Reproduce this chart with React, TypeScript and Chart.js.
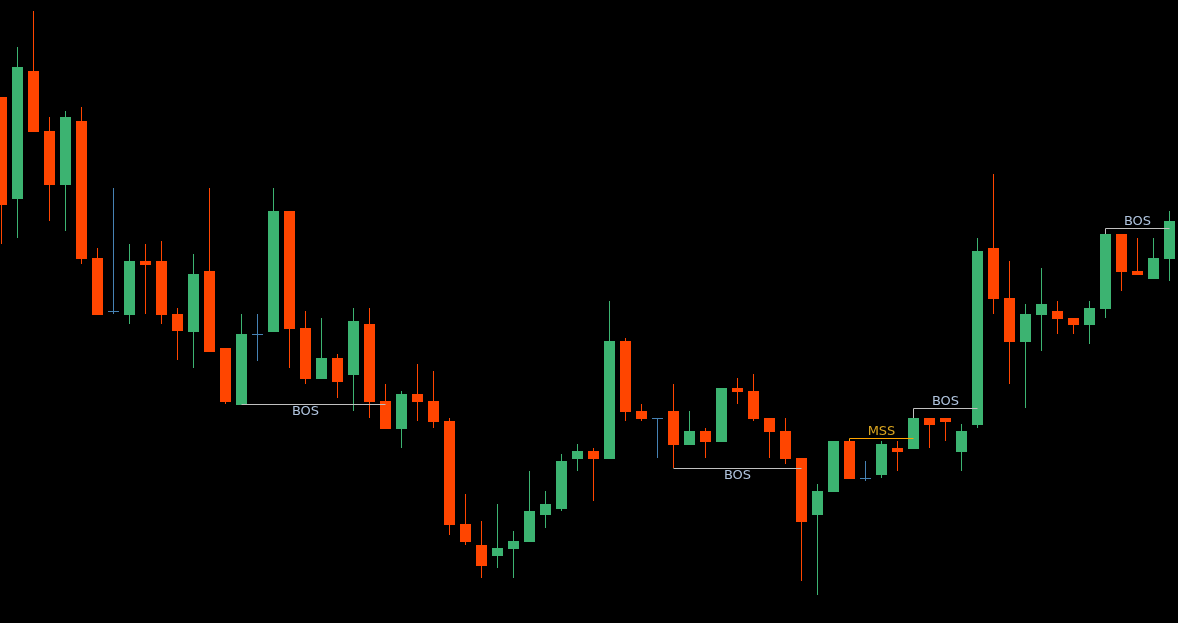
import { useEffect, useRef } from 'react';
import { Chart, registerables } from 'chart.js';

Chart.register(...registerables);

// Candle values (price units), one entry per bar, left to right
const OPEN = [526, 424, 552, 492, 438, 502, 365, 311, 308, 362, 362, 309, 291, 352, 275, 218, 288, 291, 412, 295, 244, 265, 248, 299, 222, 194, 229, 222, 202, 99, 78, 67, 74, 81, 108, 114, 164, 172, 164, 282, 212, 204, 212, 178, 192, 181, 235, 232, 205, 192, 165, 108, 131, 182, 144, 148, 175, 174, 205, 205, 171, 198, 375, 325, 281, 308, 312, 305, 298, 314, 389, 352, 344, 364];
const HIGH = [526, 576, 612, 506, 512, 516, 375, 435, 379, 379, 382, 315, 369, 435, 275, 309, 309, 435, 412, 312, 305, 269, 315, 315, 239, 232, 259, 252, 205, 129, 102, 119, 92, 152, 132, 169, 179, 175, 322, 285, 219, 205, 239, 212, 195, 235, 245, 249, 205, 205, 165, 139, 182, 182, 162, 182, 182, 205, 205, 205, 199, 385, 449, 362, 319, 355, 322, 305, 322, 389, 389, 385, 385, 412];
const LOW = [379, 385, 491, 402, 392, 359, 308, 309, 299, 309, 299, 263, 255, 271, 219, 218, 262, 291, 255, 239, 244, 225, 212, 205, 194, 175, 202, 195, 88, 78, 45, 55, 45, 81, 95, 112, 152, 122, 164, 202, 202, 165, 155, 178, 165, 181, 219, 202, 165, 159, 42, 28, 131, 144, 142, 145, 152, 174, 175, 182, 152, 195, 309, 239, 215, 272, 289, 289, 279, 305, 332, 348, 344, 342];
const CLOSE = [418, 556, 491, 438, 506, 364, 308, 311, 362, 358, 308, 292, 349, 271, 221, 289, 288, 412, 294, 244, 265, 241, 302, 221, 194, 229, 221, 201, 98, 81, 57, 75, 82, 112, 119, 162, 172, 164, 282, 211, 204, 204, 178, 192, 181, 235, 231, 204, 191, 164, 101, 132, 182, 144, 144, 179, 171, 205, 198, 201, 192, 372, 324, 281, 309, 319, 304, 298, 315, 389, 351, 348, 365, 402];

// Market-structure annotations
const STRUCT_TEXT = ['BOS', 'BOS', 'MSS', 'BOS', 'BOS'];
const STRUCT_FROM = [15, 42, 53, 57, 69];
const STRUCT_TO = [24, 50, 57, 61, 73];
const STRUCT_LEVEL = [219, 155, 185, 215, 395];
const STRUCT_ORIGIN = [219, 155, 182, 205, 389];
const STRUCT_SIDE = ['below', 'below', 'above', 'above', 'above'];

const GREEN = '#3cb371';
const RED = '#ff4500';
const DOJI = '#4682b4';
const BOS_LINE = '#c0c0c0';
const BOS_TEXT = '#b0c4de';
const MSS_LINE = '#ffa500';
const MSS_TEXT = '#daa520';

const W = 1178;
const H = 623;

export default function App() {
  const ref = useRef<HTMLCanvasElement>(null);

  useEffect(() => {
    if (!ref.current) return;
    const idx = OPEN.map((_, i) => i);
    const colors = idx.map((i) =>
      CLOSE[i] > OPEN[i] ? GREEN : CLOSE[i] < OPEN[i] ? RED : DOJI
    );

    const lineSets: any[] = STRUCT_TEXT.map((t, k) => ({
      type: 'line',
      data: [
        { x: STRUCT_FROM[k], y: STRUCT_ORIGIN[k] === STRUCT_LEVEL[k] ? STRUCT_LEVEL[k] - 0.5 : STRUCT_ORIGIN[k] },
        { x: STRUCT_FROM[k], y: STRUCT_LEVEL[k] - 0.5 },
        { x: STRUCT_TO[k], y: STRUCT_LEVEL[k] - 0.5 },
      ],
      borderColor: t === 'MSS' ? MSS_LINE : BOS_LINE,
      borderWidth: 1,
      pointRadius: 0,
      fill: false,
      tension: 0,
      order: 0,
    }));

    const labelPlugin = {
      id: 'structLabels',
      afterDatasetsDraw(chart: any) {
        const { ctx, scales } = chart;
        ctx.save();
        ctx.font = '13px "DejaVu Sans"';
        ctx.textAlign = 'center';
        ctx.textBaseline = 'alphabetic';
        STRUCT_TEXT.forEach((t, k) => {
          const mid = Math.floor((STRUCT_FROM[k] + STRUCT_TO[k]) / 2);
          const px = scales.x.getPixelForValue(mid);
          const py = scales.y.getPixelForValue(STRUCT_LEVEL[k]) + (STRUCT_SIDE[k] === 'below' ? 11 : -3);
          ctx.fillStyle = t === 'MSS' ? MSS_TEXT : BOS_TEXT;
          ctx.fillText(t, px, py);
        });
        ctx.restore();
      },
    };

    const chart = new Chart(ref.current, {
      type: 'bar',
      data: {
        datasets: [
          {
            type: 'bar',
            data: idx.map((i) => ({ x: i, y: [OPEN[i], CLOSE[i]] })),
            backgroundColor: colors,
            barThickness: 11,
            grouped: false,
            minBarLength: 1,
            borderWidth: 0,
            inflateAmount: 0,
            order: 1,
          } as any,
          {
            type: 'bar',
            data: idx.map((i) => ({ x: i, y: [LOW[i], HIGH[i]] })),
            backgroundColor: colors,
            barThickness: 1,
            grouped: false,
            borderWidth: 0,
            inflateAmount: 0,
            order: 2,
          } as any,
          ...lineSets,
        ],
      },
      options: {
        animation: false,
        responsive: false,
        maintainAspectRatio: false,
        events: [],
        layout: { padding: 0 },
        plugins: { legend: { display: false }, tooltip: { enabled: false } },
        scales: {
          x: { type: 'linear', min: -0.09375, max: 73.53125, display: false, offset: false },
          y: { type: 'linear', min: 0, max: 623, display: false },
        },
      } as any,
      plugins: [labelPlugin],
    });
    return () => chart.destroy();
  }, []);

  return (
    <div style={{ position: 'fixed', left: 0, top: 0, width: W, height: H, background: '#000' }}>
      <canvas ref={ref} width={W} height={H} style={{ display: 'block', width: W, height: H }} />
    </div>
  );
}
